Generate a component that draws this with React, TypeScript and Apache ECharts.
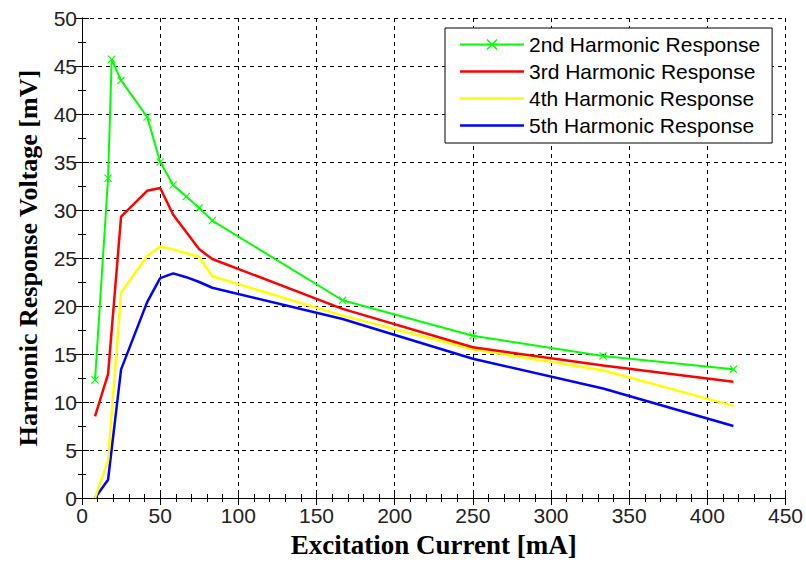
import React, { useEffect, useRef } from "react";
import * as echarts from "echarts";

const seriesNames = [
  "2nd Harmonic Response",
  "3rd Harmonic Response",
  "4th Harmonic Response",
  "5th Harmonic Response",
];

const xGreen = [8.33, 16.67, 19, 25, 41.67, 50, 58.33, 66.67, 75, 83.33, 166.67, 250, 333.33, 416.67];
const yGreen = [12.3, 33.3, 45.7, 43.5, 39.7, 35.0, 32.6, 31.4, 30.2, 28.9, 20.6, 16.9, 14.8, 13.4];

const xOthers = [8.33, 16.67, 25, 41.67, 50, 58.33, 66.67, 75, 83.33, 166.67, 250, 333.33, 416.67];
const yRed = [8.5, 12.9, 29.3, 32.0, 32.3, 29.5, 27.7, 25.9, 24.9, 19.7, 15.7, 13.8, 12.1];
const yYellow = [0, 3.9, 21.4, 25.2, 26.2, 25.9, 25.5, 25.1, 23.1, 19.0, 15.5, 13.3, 9.6];
const yBlue = [0, 1.9, 13.4, 20.4, 22.9, 23.4, 23.0, 22.5, 21.9, 18.65, 14.5, 11.4, 7.5];

const colors = ["#00ff00", "#ff0000", "#ffff00", "#0000ff"];

const xTitle = "Excitation Current [mA]";
const yTitle = "Harmonic Response Voltage [mV]";

const pair = (xs: number[], ys: number[]) => xs.map((x, i) => [x, ys[i]]);

const crossPath =
  "path://M0,1L1,0L5,4L9,0L10,1L6,5L10,9L9,10L5,6L1,10L0,9L4,5Z";
const barIcon = "path://M0,0L26,0L26,1L0,1Z";

export default function App() {
  const ref = useRef<HTMLDivElement>(null);
  useEffect(() => {
    if (!ref.current) return;
    const chart = echarts.init(ref.current, undefined, { renderer: "svg" });
    const labelFont = {
      fontFamily: "Liberation Sans, Arial, sans-serif",
      fontSize: 21,
      color: "#222",
    };
    const hiddenAxisCommon = {
      axisLabel: { show: false },
      splitLine: { show: false },
      axisLine: { show: true, lineStyle: { color: "#000", width: 1 } },
    };
    const lineData = [
      pair(xGreen, yGreen),
      pair(xOthers, yRed),
      pair(xOthers, yYellow),
      pair(xOthers, yBlue),
    ];
    chart.setOption({
      animation: false,
      backgroundColor: "#fff",
      grid: { left: 82, right: 19, top: 18, bottom: 58, containLabel: false },
      legend: {
        orient: "vertical",
        left: 445,
        top: 28,
        backgroundColor: "#fff",
        borderColor: "#000",
        borderWidth: 1,
        borderRadius: 0,
        padding: [6, 12, 7, 14],
        itemWidth: 64,
        itemHeight: 14,
        itemGap: 6,
        symbolKeepAspect: true,
        textStyle: {
          fontFamily: "Liberation Sans, Arial, sans-serif",
          fontSize: 21,
          lineHeight: 21,
          color: "#000",
        },
        data: seriesNames.map((name, i) =>
          i === 0
            ? { name }
            : { name, icon: barIcon, itemStyle: { color: colors[i] } }
        ),
      },
      xAxis: [
        {
          type: "value",
          min: 0,
          max: 450,
          interval: 50,
          position: "bottom",
          name: xTitle,
          nameLocation: "middle",
          nameGap: 33,
          nameTextStyle: {
            fontFamily: "Liberation Serif, Times New Roman, serif",
            fontWeight: "bold",
            fontSize: 27,
            color: "#000",
          },
          axisLine: { show: true, onZero: false, lineStyle: { color: "#000", width: 1 } },
          axisTick: { show: true, inside: true, length: 7, lineStyle: { color: "#000" } },
          minorTick: { show: true, splitNumber: 5, length: 4, lineStyle: { color: "#000" } },
          axisLabel: { ...labelFont, margin: 7 },
          splitLine: {
            show: true,
            lineStyle: { color: "#000", type: [4, 4], width: 1 },
          },
        },
        {
          type: "value",
          min: 0,
          max: 450,
          interval: 50,
          position: "top",
          axisTick: { show: true, inside: true, length: 7, lineStyle: { color: "#000" } },
          minorTick: { show: true, splitNumber: 5, length: 4, lineStyle: { color: "#000" } },
          ...hiddenAxisCommon,
        },
      ],
      yAxis: [
        {
          type: "value",
          min: 0,
          max: 50,
          interval: 5,
          position: "left",
          name: yTitle,
          nameLocation: "middle",
          nameGap: 41,
          nameTextStyle: {
            fontFamily: "Liberation Serif, Times New Roman, serif",
            fontWeight: "bold",
            fontSize: 26,
            color: "#000",
          },
          axisLine: { show: true, onZero: false, lineStyle: { color: "#000", width: 1 } },
          axisTick: { show: true, inside: true, length: 7, lineStyle: { color: "#000" } },
          minorTick: { show: true, splitNumber: 2, length: 4, lineStyle: { color: "#000" } },
          axisLabel: { ...labelFont, margin: 5 },
          splitLine: {
            show: true,
            lineStyle: { color: "#000", type: [4, 4], width: 1 },
          },
        },
        {
          type: "value",
          min: 0,
          max: 50,
          interval: 5,
          position: "right",
          axisTick: { show: true, inside: true, length: 7, lineStyle: { color: "#000" } },
          minorTick: { show: true, splitNumber: 2, length: 4, lineStyle: { color: "#000" } },
          ...hiddenAxisCommon,
        },
      ],
      series: seriesNames.map((name, i) => ({
        name,
        type: "line",
        xAxisIndex: 0,
        yAxisIndex: 0,
        data: lineData[i],
        color: colors[i],
        symbol: i === 0 ? crossPath : "none",
        symbolSize: 8,
        showSymbol: i === 0,
        itemStyle: { color: colors[i] },
        lineStyle: { color: colors[i], width: i === 0 ? 2 : 2.5 },
        emphasis: { disabled: true },
        z: 10 - i,
      })),
    });
    return () => chart.dispose();
  }, []);
  return (
    <div
      ref={ref}
      style={{ position: "fixed", left: 0, top: 0, width: 806, height: 563 }}
    />
  );
}
